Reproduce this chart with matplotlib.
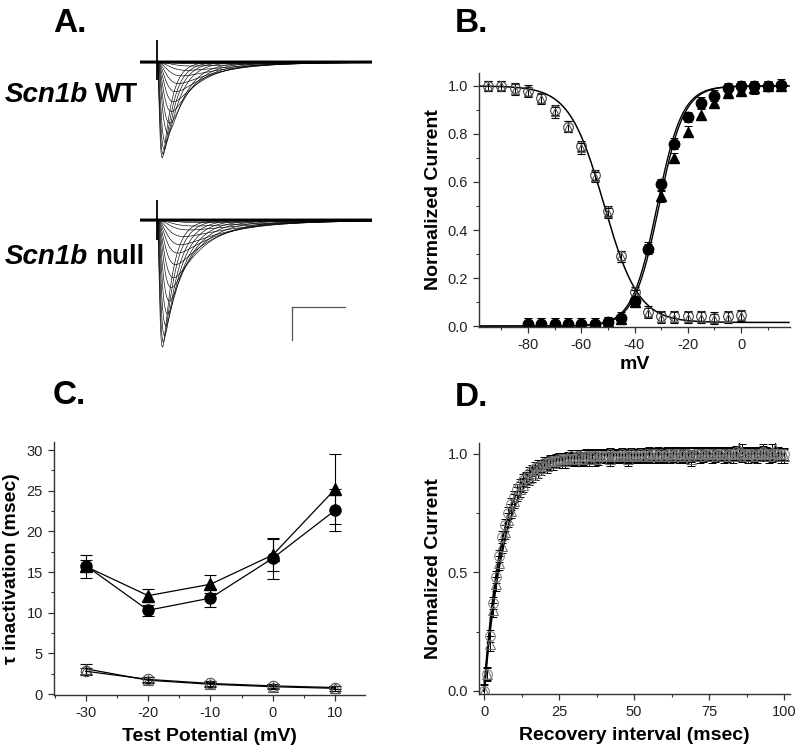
import numpy as np
import matplotlib.pyplot as plt
from matplotlib.ticker import MultipleLocator

plt.rcParams['font.family'] = ['Liberation Sans', 'DejaVu Sans']
plt.rcParams['axes.unicode_minus'] = False

# ---- panel A: current traces (peak amplitude nA, activation / inactivation tau ms)
wt_amp = [2.9, 2.8, 2.65, 2.45, 2.15, 1.85, 1.5, 1.2, 0.9, 0.65, 0.42, 0.25, 0.12, 0.05]
wt_tm = [0.18, 0.21, 0.25, 0.3, 0.4, 0.45, 0.5, 0.56, 0.62, 0.7, 0.8, 0.95, 1.1, 1.3]
wt_th = [0.8, 0.95, 1.1, 1.3, 1.6, 1.9, 2.3, 2.8, 3.3, 4.0, 4.8, 6.0, 7.5, 9.5]
null_amp = [3.85, 3.7, 3.5, 3.2, 2.85, 2.45, 2.05, 1.75, 1.35, 1.0, 0.75, 0.5, 0.3, 0.18, 0.08]
null_tm = [0.18, 0.21, 0.25, 0.3, 0.36, 0.42, 0.48, 0.55, 0.6, 0.65, 0.72, 0.8, 0.95, 1.1, 1.3]
null_th = [0.9, 1.05, 1.25, 1.45, 1.7, 2.0, 2.4, 2.9, 3.4, 4.1, 4.9, 5.9, 7.2, 9.0, 11.0]
spike_wt = (-0.55, 0.67)
spike_null = (-0.6, 0.62)
scale_ms = 5
scale_na = 1

# ---- panel B: steady-state inactivation (open) and activation (filled)
inact_v = [-95, -90, -85, -80, -75, -70, -65, -60, -55, -50,
           -45, -40, -35, -30, -25, -20, -15, -10, -5, 0]
inact_wt = [1.0, 1.0, 0.99, 0.98, 0.95, 0.90, 0.83, 0.75, 0.63, 0.48,
            0.29, 0.14, 0.06, 0.04, 0.04, 0.04, 0.04, 0.035, 0.04, 0.045]
inact_null = [1.0, 1.0, 0.985, 0.975, 0.945, 0.89, 0.83, 0.74, 0.62, 0.47,
              0.29, 0.13, 0.055, 0.035, 0.035, 0.035, 0.035, 0.03, 0.035, 0.04]
act_v = [-80, -75, -70, -65, -60, -55, -50, -45, -40, -35,
         -30, -25, -20, -15, -10, -5, 0, 5, 10, 15]
act_wt = [0.01, 0.01, 0.01, 0.01, 0.01, 0.01, 0.015, 0.035, 0.105, 0.32,
          0.59, 0.76, 0.87, 0.93, 0.96, 0.99, 1.0, 1.0, 1.0, 1.005]
act_null = [0.01, 0.01, 0.01, 0.01, 0.01, 0.01, 0.015, 0.03, 0.10, 0.33,
            0.54, 0.70, 0.81, 0.88, 0.93, 0.97, 0.98, 0.99, 1.0, 1.0]
err_b = 0.022
# Boltzmann fit parameters (V1/2, slope)
inact_fit = (-51.5, 6.5, 0.015)
act_fit_wt = (-31.5, 4.7)
act_fit_null = (-30.8, 4.7)

# ---- panel C: inactivation time constants
test_v = [-30, -20, -10, 0, 10]
slow_wt = [15.8, 10.3, 11.8, 16.7, 22.6]
slow_wt_err = [0.7, 0.7, 1.1, 2.5, 2.6]
slow_null = [15.7, 12.1, 13.5, 17.1, 25.2]
slow_null_err = [1.4, 0.8, 1.1, 2.0, 4.3]
fast_wt = [2.8, 1.8, 1.3, 1.0, 0.8]
fast_wt_err = [0.4, 0.3, 0.3, 0.2, 0.2]
fast_null = [3.1, 1.7, 1.2, 0.9, 0.7]
fast_null_err = [0.6, 0.4, 0.3, 0.3, 0.3]

# ---- panel D: recovery from inactivation
rec_t = list(range(0, 101))
rec_wt = [0.00, 0.07, 0.23, 0.37, 0.48, 0.57, 0.65, 0.70, 0.75, 0.79, 0.82, 0.85, 0.87,
          0.89, 0.90, 0.92, 0.93, 0.94, 0.95, 0.95, 0.96, 0.96, 0.97, 0.97, 0.97, 0.98,
          0.98, 0.98, 0.98, 0.99, 0.98, 0.99, 0.99, 0.98, 0.99, 0.99, 0.99, 0.99, 0.98,
          0.99, 0.99, 0.99, 1.00, 0.99, 0.99, 0.99, 1.00, 0.99, 0.99, 1.00, 0.99,
          0.99, 1.00, 0.99, 1.00, 0.99, 1.00, 1.00, 0.99, 1.00, 0.99, 1.00, 1.00, 0.99,
          1.00, 1.00, 0.99, 1.00, 1.00, 0.99, 1.00, 1.00, 1.00, 0.99, 1.00, 1.00,
          1.00, 0.99, 1.00, 1.00, 1.00, 0.99, 1.00, 1.00, 1.01, 1.00, 0.99, 1.00, 1.00,
          1.00, 0.99, 1.00, 1.00, 1.01, 1.00, 1.00, 0.99, 1.00, 1.00, 1.00, 1.00]
rec_null = [0.00, 0.07, 0.20, 0.34, 0.45, 0.54, 0.61, 0.67, 0.72, 0.76, 0.80, 0.83, 0.85,
            0.87, 0.89, 0.90, 0.91, 0.92, 0.93, 0.94, 0.95, 0.95, 0.96, 0.96, 0.97, 0.97,
            0.97, 0.97, 0.98, 0.98, 0.98, 0.98, 0.98, 0.98, 0.99, 0.98, 0.99, 0.98, 0.99,
            0.99, 0.99, 0.99, 0.98, 0.99, 0.99, 0.99, 0.99, 0.99, 0.98, 0.99, 0.99,
            0.99, 0.99, 0.99, 0.99, 1.00, 0.99, 0.99, 1.00, 0.99, 0.99, 1.00, 0.99, 1.00,
            1.00, 0.99, 1.00, 0.99, 1.00, 0.98, 1.00, 1.00, 0.99, 1.00, 1.00, 1.00,
            0.99, 1.00, 1.00, 1.00, 0.99, 1.00, 1.00, 0.99, 1.00, 1.02, 1.01, 1.00, 0.99,
            1.00, 1.00, 0.99, 1.00, 1.01, 1.00, 0.99, 1.01, 1.02, 1.00, 0.99, 0.99]
err_d_wt = 0.025
err_d_null = 0.03
rec_tau_wt = 6.0
rec_tau_null = 6.8


def boltz(v, v_half, k):
    return 1.0 / (1.0 + np.exp((v - v_half) / k))


def style(ax):
    for s in ('top', 'right'):
        ax.spines[s].set_visible(False)
    for s in ('left', 'bottom'):
        ax.spines[s].set_linewidth(1.0)
        ax.spines[s].set_color('#333333')
    ax.tick_params(which='major', direction='out', length=4.5, width=0.9,
                   labelsize=10.5, colors='#333333', labelcolor='#222222')
    ax.tick_params(which='minor', direction='out', length=2.5, width=0.8,
                   colors='#333333')


def draw_traces(ax, amps, tms, ths, spike):
    t = np.linspace(-1.6, 20.1, 1500)
    tt = np.clip(t, 0, None)
    for a, tm, th in zip(amps, tms, ths):
        shape = (1 - np.exp(-tt / tm)) ** 3 * np.exp(-tt / th)
        ax.plot(t, -a * shape / shape.max(), color='black', lw=0.45)
    ax.plot(t, np.zeros_like(t), color='black', lw=2.2)
    ax.vlines(0, spike[0], spike[1], color='black', lw=1.3)
    ax.set_xlim(-1.6, 20.1)
    ax.axis('off')


fig = plt.figure(figsize=(8, 7.53), dpi=100)
W, H = 800, 753


def px_axes(x0, y0, x1, y1):
    return fig.add_axes([x0 / W, 1 - y1 / H, (x1 - x0) / W, (y1 - y0) / H])


# ---------------- A
ax_wt = px_axes(140, 35, 372, 170)
draw_traces(ax_wt, wt_amp, wt_tm, wt_th, spike_wt)
ax_wt.set_ylim(-3.27, 0.82)

ax_null = px_axes(140, 195, 372, 355)
draw_traces(ax_null, null_amp, null_tm, null_th, spike_null)
ax_null.set_ylim(-4.09, 0.76)
x0, y0 = 12.6, -2.64
ax_null.plot([x0, x0 + scale_ms], [y0, y0], color='#555555', lw=0.9)
ax_null.plot([x0, x0], [y0, y0 - scale_na], color='#555555', lw=0.9)

for ypix, word in ((95, 'WT'), (257, 'null')):
    t1 = fig.text(5 / W, 1 - ypix / H, 'Scn1b', fontsize=20, fontweight='bold',
                  fontstyle='italic', va='center', ha='left')
    fig.canvas.draw()
    plt.annotate(word, xy=(1, 0), xycoords=t1, xytext=(5, 0),
                 textcoords='offset points', fontsize=20, fontweight='bold',
                 va='bottom', ha='left', annotation_clip=False)

# panel letters
for x, y, s in ((53, 24, 'A.'), (455, 24, 'B.'), (53, 396, 'C.'), (455, 397, 'D.')):
    fig.text(x / W, 1 - y / H, s, fontsize=24, fontweight='heavy', va='center', ha='left')

# ---------------- B
axb = px_axes(479, 73, 790, 327)
style(axb)
vv = np.linspace(-98, 18, 400)
axb.plot(vv, inact_fit[2] + (1 - inact_fit[2]) * boltz(vv, inact_fit[0], inact_fit[1]),
         color='black', lw=1.1)
axb.plot(vv, 1 - boltz(vv, *act_fit_wt), color='black', lw=1.0)
axb.plot(vv, 1 - boltz(vv, *act_fit_null), color='black', lw=1.0)
ekw = dict(ecolor='black', elinewidth=0.7, capsize=3.2, capthick=0.7, ls='none')
axb.errorbar(inact_v, inact_null, yerr=err_b, marker='^', ms=6, mfc='none',
             mec='#555555', mew=0.8, **ekw)
axb.errorbar(inact_v, inact_wt, yerr=err_b, marker='o', ms=7, mfc='none',
             mec='#444444', mew=0.8, **ekw)
axb.errorbar(act_v, act_null, yerr=err_b, marker='^', ms=7.5, mfc='black',
             mec='black', **ekw)
axb.errorbar(act_v, act_wt, yerr=err_b, marker='o', ms=7.5, mfc='black',
             mec='black', **ekw)
axb.set_xlim(-98.4, 18.4)
axb.set_ylim(-0.004, 1.054)
axb.xaxis.set_major_locator(MultipleLocator(20))
axb.xaxis.set_minor_locator(MultipleLocator(10))
axb.yaxis.set_major_locator(MultipleLocator(0.2))
axb.yaxis.set_minor_locator(MultipleLocator(0.1))
axb.yaxis.set_major_formatter(plt.FormatStrFormatter('%.1f'))
axb.set_xlabel('mV', fontsize=14, fontweight='bold', labelpad=3)
axb.set_ylabel('Normalized Current', fontsize=14, fontweight='bold', labelpad=4)

# ---------------- C
axc = px_axes(54, 442, 365, 695)
style(axc)
axc.errorbar(test_v, slow_null, yerr=slow_null_err, marker='^', ms=8.5, color='black',
             lw=0.9, elinewidth=0.8, capsize=4, capthick=0.8)
axc.errorbar(test_v, slow_wt, yerr=slow_wt_err, marker='o', ms=8, color='black',
             lw=0.9, elinewidth=0.8, capsize=4, capthick=0.8)
axc.errorbar(test_v, fast_null, yerr=fast_null_err, marker='^', ms=7.5, color='black',
             mfc='none', mec='#555555', mew=0.8, lw=0.9, elinewidth=0.8,
             capsize=4, capthick=0.8)
axc.errorbar(test_v, fast_wt, yerr=fast_wt_err, marker='o', ms=7.5, color='black',
             mfc='none', mec='#555555', mew=0.8, lw=0.9, elinewidth=0.8,
             capsize=4, capthick=0.8)
axc.set_xlim(-35.1, 14.8)
axc.set_ylim(-0.12, 31)
axc.xaxis.set_major_locator(MultipleLocator(10))
axc.xaxis.set_minor_locator(MultipleLocator(5))
axc.yaxis.set_major_locator(MultipleLocator(5))
axc.yaxis.set_minor_locator(MultipleLocator(2.5))
axc.set_xlabel('Test Potential (mV)', fontsize=14, fontweight='bold', labelpad=6)
axc.set_ylabel('τ inactivation (msec)', fontsize=14, fontweight='bold', labelpad=5)

# ---------------- D
axd = px_axes(479, 443, 790, 694)
style(axd)
tt = np.linspace(0, 100, 600)
axd.plot(tt, 1 - np.exp(-tt / rec_tau_null), color='black', lw=1.4)
axd.plot(tt, 1 - np.exp(-tt / rec_tau_wt), color='black', lw=1.4)
axd.errorbar(rec_t, rec_null, yerr=err_d_null, marker='^', ms=6.5, mfc='none',
             mec='#666666', mew=0.7, ecolor='black', elinewidth=0.7, capsize=3.2,
             capthick=0.7, ls='none')
axd.errorbar(rec_t, rec_wt, yerr=err_d_wt, marker='o', ms=7, mfc='none',
             mec='#777777', mew=0.7, ecolor='black', elinewidth=0.7, capsize=3.2,
             capthick=0.7, ls='none')
axd.set_xlim(-1.7, 102)
axd.set_ylim(-0.013, 1.046)
axd.xaxis.set_major_locator(MultipleLocator(25))
axd.xaxis.set_minor_locator(MultipleLocator(12.5))
axd.yaxis.set_major_locator(MultipleLocator(0.5))
axd.yaxis.set_minor_locator(MultipleLocator(0.25))
axd.yaxis.set_major_formatter(plt.FormatStrFormatter('%.1f'))
axd.set_xlabel('Recovery interval (msec)', fontsize=14, fontweight='bold', labelpad=6)
axd.set_ylabel('Normalized Current', fontsize=14, fontweight='bold', labelpad=4)

fig.savefig('out.png', dpi=100)
